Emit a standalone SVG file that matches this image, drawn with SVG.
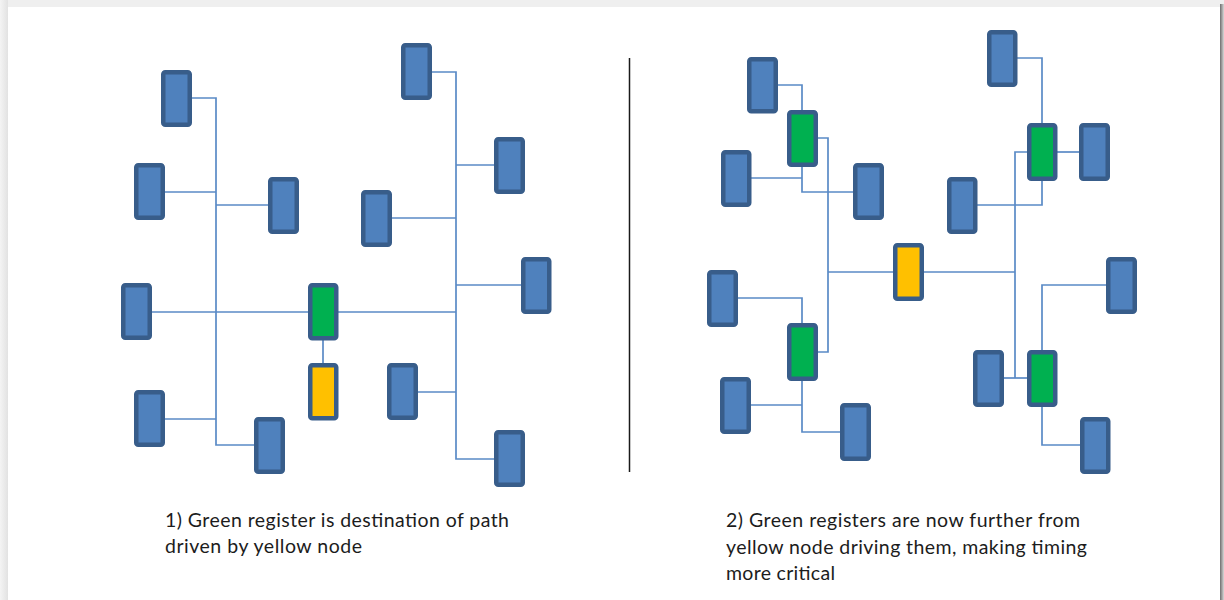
<svg xmlns="http://www.w3.org/2000/svg" width="1224" height="600" viewBox="0 0 1224 600">
  <defs>
    <linearGradient id="edgeL" x1="0" y1="0" x2="1" y2="0">
      <stop offset="0" stop-color="#f4f4f4"/>
      <stop offset="1" stop-color="#e2e2e2"/>
    </linearGradient>
    <linearGradient id="edgeR" x1="0" y1="0" x2="1" y2="0">
      <stop offset="0" stop-color="#6e6e6e"/>
      <stop offset="1" stop-color="#d8d8d8"/>
    </linearGradient>
  </defs>
  <style>
    .reg { fill: #4F81BD; stroke: #385D8A; stroke-width: 4.5; }
    .dst { fill: #00B050; stroke: #385D8A; stroke-width: 4.5; }
    .src { fill: #FFC000; stroke: #385D8A; stroke-width: 4.5; }
    .wire { fill: none; stroke: #5A8AC6; stroke-width: 1.7; }
    .note { font-family: Lato, "Liberation Sans", sans-serif; font-size: 19.5px; fill: #1c1c1c; }
  </style>

  <!-- page and its frame -->
  <rect x="0" y="0" width="1224" height="600" fill="#efefef"/>
  <rect x="0" y="0" width="8" height="600" fill="url(#edgeL)"/>
  <rect x="1220" y="4" width="4" height="596" fill="url(#edgeR)"/>
  <rect x="8" y="7" width="1212" height="593" fill="#ffffff"/>

  <!-- divider -->
  <line x1="629.5" y1="58" x2="629.5" y2="472" stroke="#1a1a1a" stroke-width="1.5"/>

  <g id="connectors">
    <!-- left net -->
    <path class="wire" d="M190 98 H216 V445 H256"/>
    <path class="wire" d="M163 192 H216"/>
    <path class="wire" d="M216 205 H270"/>
    <path class="wire" d="M150 312 H310"/>
    <path class="wire" d="M336 312 H456"/>
    <path class="wire" d="M323 339 V365"/>
    <path class="wire" d="M163 419 H216"/>
    <path class="wire" d="M430 72 H456 V459 H496"/>
    <path class="wire" d="M456 165 H496"/>
    <path class="wire" d="M390 218 H456"/>
    <path class="wire" d="M456 285 H523"/>
    <path class="wire" d="M416 392 H456"/>
    <!-- right net -->
    <path class="wire" d="M776 85 H802 V112"/>
    <path class="wire" d="M816 138 H828 V352 H816"/>
    <path class="wire" d="M749 178 H802"/>
    <path class="wire" d="M802 165 V192 H855"/>
    <path class="wire" d="M828 272 H895"/>
    <path class="wire" d="M736 298 H802 V325"/>
    <path class="wire" d="M749 405 H802"/>
    <path class="wire" d="M802 379 V432 H842"/>
    <path class="wire" d="M922 272 H1015"/>
    <path class="wire" d="M1029 152 H1015 V378"/>
    <path class="wire" d="M1002 378 H1029"/>
    <path class="wire" d="M1015 58 H1042 V125"/>
    <path class="wire" d="M1055 152 H1081"/>
    <path class="wire" d="M1042 179 V205 H975"/>
    <path class="wire" d="M1108 285 H1042 V352"/>
    <path class="wire" d="M1042 405 V445 H1082"/>
  </g>

  <!-- left net registers -->
  <g id="l-a"><rect class="reg" x="163.25" y="72.25" width="26.5" height="52.5" rx="2"/></g>
  <g id="l-b"><rect class="reg" x="136.25" y="165.25" width="26.5" height="52.5" rx="2"/></g>
  <g id="l-c"><rect class="reg" x="270.25" y="179.25" width="26.5" height="52.5" rx="2"/></g>
  <g id="l-d"><rect class="reg" x="123.25" y="285.25" width="26.5" height="52.5" rx="2"/></g>
  <g id="l-dest"><rect class="dst" x="310.25" y="285.25" width="26" height="53" rx="2"/></g>
  <g id="l-driver"><rect class="src" x="310.25" y="365.25" width="26" height="53" rx="2"/></g>
  <g id="l-e"><rect class="reg" x="136.25" y="392.25" width="26.5" height="52.5" rx="2"/></g>
  <g id="l-f"><rect class="reg" x="256.25" y="419.25" width="26.5" height="52.5" rx="2"/></g>
  <g id="l-g"><rect class="reg" x="403.25" y="45.25" width="26.5" height="52.5" rx="2"/></g>
  <g id="l-h"><rect class="reg" x="496.25" y="139.25" width="26.5" height="52.5" rx="2"/></g>
  <g id="l-i"><rect class="reg" x="363.25" y="192.25" width="26.5" height="52.5" rx="2"/></g>
  <g id="l-j"><rect class="reg" x="523.25" y="259.25" width="26" height="52.5" rx="2"/></g>
  <g id="l-k"><rect class="reg" x="389.25" y="365.25" width="26.5" height="52.5" rx="2"/></g>
  <g id="l-l"><rect class="reg" x="496.25" y="432.25" width="26.5" height="52.5" rx="2"/></g>

  <!-- right net registers -->
  <g id="r-m"><rect class="reg" x="749.25" y="59.25" width="26.5" height="52" rx="2"/></g>
  <g id="r-dest1"><rect class="dst" x="789.25" y="112.25" width="26.5" height="52.5" rx="2"/></g>
  <g id="r-n"><rect class="reg" x="723.25" y="152.25" width="26" height="52.5" rx="2"/></g>
  <g id="r-o"><rect class="reg" x="855.25" y="165.25" width="26.5" height="52.5" rx="2"/></g>
  <g id="r-driver"><rect class="src" x="895.25" y="245.25" width="26.5" height="53.5" rx="2"/></g>
  <g id="r-p"><rect class="reg" x="709.25" y="272.25" width="26.5" height="52.5" rx="2"/></g>
  <g id="r-dest2"><rect class="dst" x="789.25" y="325.25" width="26.5" height="53.5" rx="2"/></g>
  <g id="r-q"><rect class="reg" x="722.25" y="379.25" width="26.5" height="52.5" rx="2"/></g>
  <g id="r-r"><rect class="reg" x="842.25" y="405.25" width="26.5" height="53.5" rx="2"/></g>
  <g id="r-s"><rect class="reg" x="989.25" y="32.25" width="26" height="52.5" rx="2"/></g>
  <g id="r-dest3"><rect class="dst" x="1029.25" y="125.25" width="26" height="53.5" rx="2"/></g>
  <g id="r-t"><rect class="reg" x="1081.25" y="125.25" width="26.5" height="53.5" rx="2"/></g>
  <g id="r-u"><rect class="reg" x="949.25" y="179.25" width="26" height="52.5" rx="2"/></g>
  <g id="r-v"><rect class="reg" x="1108.25" y="259.25" width="26.5" height="52.5" rx="2"/></g>
  <g id="r-dest4"><rect class="dst" x="1029.25" y="352.25" width="26" height="52.5" rx="2"/></g>
  <g id="r-w"><rect class="reg" x="975.25" y="352.25" width="26.5" height="52.5" rx="2"/></g>
  <g id="r-x"><rect class="reg" x="1082.25" y="419.25" width="26" height="52.5" rx="2"/></g>

  <!-- captions -->
  <g id="caption-1" class="note">
    <text x="165" y="527" textLength="344" lengthAdjust="spacing">1) Green register is destination  of path</text>
    <text x="165" y="553" textLength="197" lengthAdjust="spacing">driven by yellow node</text>
  </g>
  <g id="caption-2" class="note">
    <text x="726" y="527" textLength="354" lengthAdjust="spacing">2) Green registers are now further from</text>
    <text x="726" y="554" textLength="361" lengthAdjust="spacing">yellow node driving them, making timing</text>
    <text x="726" y="580" textLength="109" lengthAdjust="spacing">more critical</text>
  </g>
</svg>
